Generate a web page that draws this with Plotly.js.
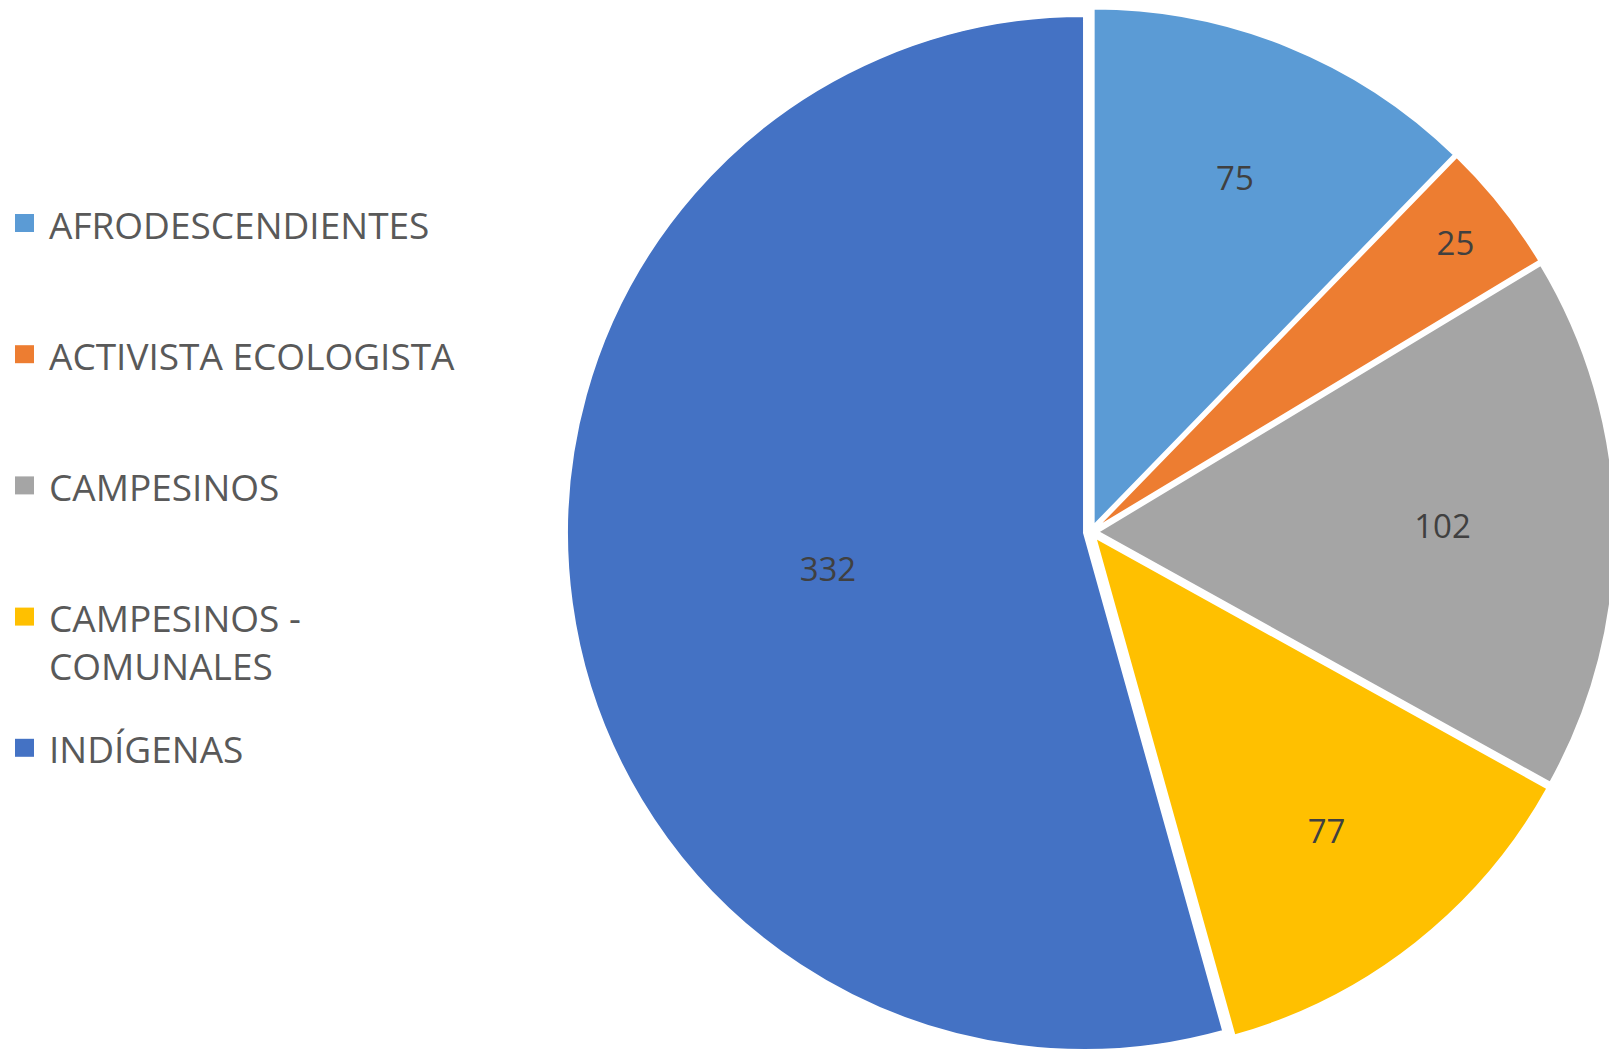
<!DOCTYPE html>
<html>
<head>
<meta charset="utf-8">
<script src="https://cdn.plot.ly/plotly-3.0.1.min.js"></script>
<style>
  html, body { margin: 0; padding: 0; overflow: hidden; background: #ffffff; }
  #chart { width: 1700px; height: 1060px; }
</style>
</head>
<body>
<div id="chart"></div>
<script>
// ---- data ----
const categories = ['AFRODESCENDIENTES', 'ACTIVISTA ECOLOGISTA', 'CAMPESINOS', 'CAMPESINOS - COMUNALES', 'INDÍGENAS'];
const counts = [75, 25, 102, 77, 332];
const sliceColors = ['#5B9BD5', '#ED7D31', '#A5A5A5', '#FFC000', '#4472C4'];

// ---- layout geometry (pixels) ----
const W = 1700, H = 1060;
const cx = 1091, cy = 532, R = 517;
const pullFrac = 0.0136;
const half = R * (1 + pullFrac);
const FONT = '"Open Sans", "Noto Sans", sans-serif';
const LEG_FONT_SIZE = 37;

const pieTrace = {
  type: 'pie',
  labels: categories,
  values: counts,
  sort: false,
  direction: 'clockwise',
  rotation: 0,
  pull: categories.map(() => pullFrac),
  marker: { colors: sliceColors, line: { color: '#ffffff', width: 2 } },
  textinfo: 'value',
  textposition: 'inside',
  insidetextorientation: 'horizontal',
  textfont: { family: FONT, size: 33, color: '#404040' },
  hoverinfo: 'label+value',
  showlegend: false,
  domain: {
    x: [(cx - half) / W, (cx + half) / W],
    y: [1 - (cy + half) / H, 1 - (cy - half) / H]
  }
};

// custom legend (text + colour squares) built from the arrays
const legTop = 223, legStep = 131.2, legTextX = 47, sqX0 = 15, sqW = 19, sqH = 18;
const annotations = [];
const shapes = [];
categories.forEach((c, i) => {
  const yc = legTop + i * legStep;
  const txt = c.replace(' - ', ' -<br>');
  annotations.push({
    xref: 'paper', yref: 'paper',
    x: legTextX / W, y: 1 - (yc - 26.5) / H,
    xanchor: 'left', yanchor: 'top', align: 'left',
    text: txt, showarrow: false,
    font: { family: FONT, size: LEG_FONT_SIZE, color: '#595959' }
  });
  shapes.push({
    type: 'rect', xref: 'paper', yref: 'paper',
    x0: sqX0 / W, x1: (sqX0 + sqW) / W,
    y0: 1 - (yc + sqH / 2) / H, y1: 1 - (yc - sqH / 2) / H,
    fillcolor: sliceColors[i], line: { width: 0 }
  });
});

const layout = {
  width: W, height: H,
  margin: { l: 0, r: 0, t: 0, b: 0, pad: 0 },
  paper_bgcolor: '#ffffff',
  plot_bgcolor: '#ffffff',
  showlegend: false,
  annotations: annotations,
  shapes: shapes,
  font: { family: FONT, color: '#595959' }
};

Plotly.newPlot('chart', [pieTrace], layout, { displayModeBar: false, staticPlot: true });
</script>
</body>
</html>
